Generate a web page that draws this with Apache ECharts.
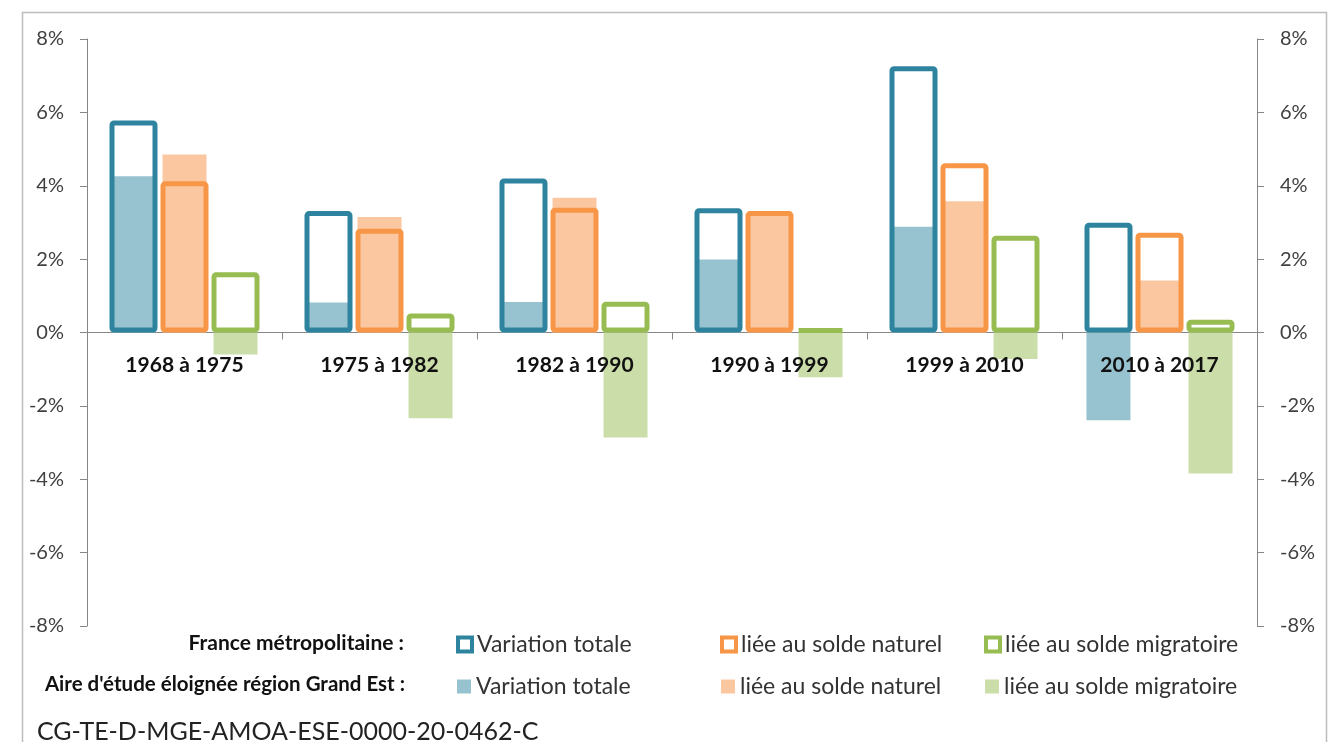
<!DOCTYPE html>
<html>
<head>
<meta charset="utf-8">
<script src="https://cdn.jsdelivr.net/npm/echarts@6/dist/echarts.min.js"></script>
<style>
html,body{margin:0;padding:0;background:#fff;}
#chart{width:1334px;height:742px;}
</style>
</head>
<body>
<div id="chart"></div>
<script>
// ---- Data (values in %) ----
const categories = ['1968 à 1975', '1975 à 1982', '1982 à 1990', '1990 à 1999', '1999 à 2010', '2010 à 2017'];
// France métropolitaine (outlined bars)
const franceTotale     = [5.78, 3.31, 4.20, 3.39, 7.26, 2.99];
const franceNaturel    = [4.12, 2.83, 3.40, 3.31, 4.61, 2.72];
const franceMigratoire = [1.64, 0.52, 0.84, 0.11, 2.64, 0.35];
// Aire d'étude éloignée région Grand Est (filled bars)
const grandEstTotale     = [4.26, 0.82, 0.83, 1.99, 2.88, -2.39];
const grandEstNaturel    = [4.85, 3.15, 3.67, 3.20, 3.58, 1.42];
const grandEstMigratoire = [-0.60, -2.34, -2.86, -1.22, -0.72, -3.84];
// Axis ticks
const yMin = -8, yMax = 8, yStep = 2;
const seriesLabels = ['Variation totale', 'liée au solde naturel', 'liée au solde migratoire'];
const groupFrance = 'France métropolitaine :';
const groupGrandEst = "Aire d'étude éloignée région Grand Est :";
const docRef = 'CG-TE-D-MGE-AMOA-ESE-0000-20-0462-C';

const FONT = 'Lato, "Open Sans", sans-serif';
const strokeColors = ['#2E849E', '#F79646', '#97BD52'];
const fillColors = ['#97C2D0', '#FAC7A1', '#CBDDA9'];

const franceData = [franceTotale, franceNaturel, franceMigratoire];
const grandEstData = [grandEstTotale, grandEstNaturel, grandEstMigratoire];

const series = [];
grandEstData.forEach((d, i) => {
  series.push({
    name: 'GE|' + seriesLabels[i],
    type: 'bar', xAxisIndex: 0, yAxisIndex: 0,
    data: d, barWidth: 44, barGap: '16%', z: 2,
    itemStyle: { color: fillColors[i] },
    emphasis: { disabled: true }
  });
});
franceData.forEach((d, i) => {
  series.push({
    name: 'FR|' + seriesLabels[i],
    type: 'bar', xAxisIndex: 1, yAxisIndex: 0,
    data: d, barWidth: 48, barGap: '6.25%', z: 3,
    itemStyle: { color: 'rgba(0,0,0,0)', borderColor: strokeColors[i], borderWidth: 5, borderRadius: 2 },
    emphasis: { disabled: true }
  });
});

const colLeft = [456, 720, 984];
const legends = [];
seriesLabels.forEach((lab, i) => {
  legends.push({
    data: [{ name: 'FR|' + lab, icon: 'rect', itemStyle: { color: '#fff', borderColor: strokeColors[i], borderWidth: 4 } }],
    left: colLeft[i], top: 633, padding: 0, itemWidth: 14, itemHeight: 14, selectedMode: false,
    formatter: n => n.split('|')[1],
    textStyle: { fontFamily: FONT, fontSize: 23, color: '#333' }
  });
  legends.push({
    data: [{ name: 'GE|' + lab, icon: 'rect', itemStyle: { color: fillColors[i], borderWidth: 0 } }],
    left: colLeft[i] + 1, top: 675, padding: 0, itemWidth: 14, itemHeight: 14, selectedMode: false,
    formatter: n => n.split('|')[1],
    textStyle: { fontFamily: FONT, fontSize: 23, color: '#333' }
  });
});

const yAxisCommon = {
  type: 'value', min: yMin, max: yMax, interval: yStep,
  axisLine: { show: true, lineStyle: { color: '#868686', width: 1 } },
  axisTick: { show: true, length: 7, lineStyle: { color: '#868686' } },
  axisLabel: { formatter: '{value}%', margin: 23, fontFamily: FONT, fontSize: 20, color: '#404040' },
  splitLine: { show: false }
};

const option = {
  animation: false,
  backgroundColor: '#fff',
  grid: { left: 87, right: 77, top: 39, bottom: 116, containLabel: false },
  xAxis: [
    {
      type: 'category', data: categories, position: 'bottom',
      axisLine: { onZero: true, lineStyle: { color: '#868686', width: 1 } },
      axisTick: { show: true, length: 7, lineStyle: { color: '#868686' } },
      axisLabel: { show: false }, splitLine: { show: false }
    },
    {
      type: 'category', data: categories, position: 'bottom', offset: -293.5, z: 10,
      axisLine: { show: false, onZero: false },
      axisTick: { show: false },
      axisLabel: { margin: 22, fontFamily: FONT, fontSize: 21, fontWeight: 'bold', color: '#111' },
      splitLine: { show: false }
    }
  ],
  yAxis: [
    Object.assign({}, yAxisCommon, { position: 'left' }),
    Object.assign({}, yAxisCommon, { position: 'right' })
  ],
  legend: legends,
  series: series,
  graphic: [
    { type: 'rect', silent: true, z: -1, shape: { x: 22.5, y: 12.5, width: 1304, height: 800 }, style: { fill: 'none', stroke: '#BDBDBD', lineWidth: 1.5 } },
    { type: 'text', x: 404, y: 643, style: { text: groupFrance, textAlign: 'right', textVerticalAlign: 'middle', fontFamily: FONT, fontSize: 21, fontWeight: 'bold', fill: '#111' } },
    { type: 'text', x: 405, y: 684, style: { text: groupGrandEst, textAlign: 'right', textVerticalAlign: 'middle', fontFamily: FONT, fontSize: 20.5, fontWeight: 'bold', fill: '#111' } },
    { type: 'text', x: 37, y: 732, style: { text: docRef, textVerticalAlign: 'middle', fontFamily: FONT, fontSize: 25, fill: '#222' } }
  ]
};

const chart = echarts.init(document.getElementById('chart'), null, { renderer: 'canvas' });
chart.setOption(option);
</script>
</body>
</html>
